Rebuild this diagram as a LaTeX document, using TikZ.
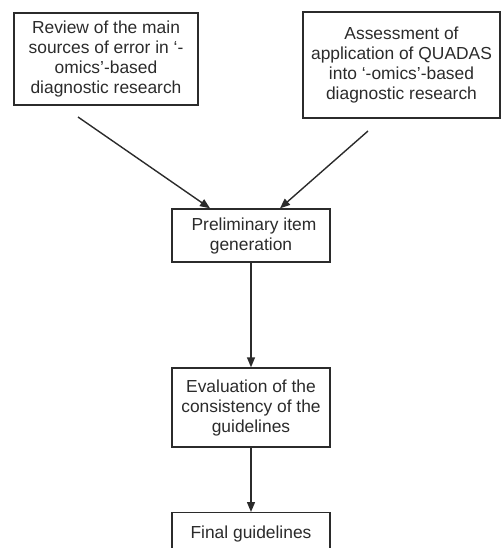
\documentclass[tikz,border=0pt]{standalone}
\usepackage{fontspec}
\setmainfont{Liberation Sans}
\usetikzlibrary{arrows.meta}
\definecolor{ink}{HTML}{2B2B2B}
\begin{document}
\begin{tikzpicture}[x=1pt,y=1pt,
  stepbox/.style={draw=ink,line width=1.4pt,rectangle,inner sep=0pt,align=center,
    text=ink,font=\fontsize{17.4}{20}\selectfont},
  arr/.style={draw=ink,line width=1.4pt,-{Triangle[length=10pt,width=8pt]}}]
\clip (0,0) rectangle (501,-548);
\node[stepbox,minimum width=184pt,minimum height=92pt] (r) at (106,-59)
  {Review of the main\\sources of error in ‘-\\omics’-based\\diagnostic research};
\node[stepbox,minimum width=197pt,minimum height=106pt] (q) at (401.5,-65)
  {Assessment of\\application of QUADAS\\into ‘-omics’-based\\diagnostic research};
\node[stepbox,minimum width=158pt,minimum height=53pt] (p) at (251,-235.5)
  {\hspace*{6pt}Preliminary item\\generation};
\node[stepbox,minimum width=158pt,minimum height=79pt] (e) at (251,-407.5)
  {Evaluation of the\\consistency of the\\guidelines};
\node[stepbox,minimum width=158pt,minimum height=50pt,anchor=north] (f) at (251,-512)
  {};
\node[text=ink,font=\fontsize{17.4}{20}\selectfont,anchor=base] (ft) at (251,-538) {Final guidelines};
\coordinate (s1) at (78,-117);
\coordinate (s2) at (368,-131);
\draw[arr] (s1) -- ([xshift=-41pt]p.north);
\draw[arr] (s2) -- ([xshift=29pt]p.north);
\draw[arr] (p.south) -- (e.north);
\draw[arr] (e.south) -- (f.north);
\end{tikzpicture}
\end{document}
